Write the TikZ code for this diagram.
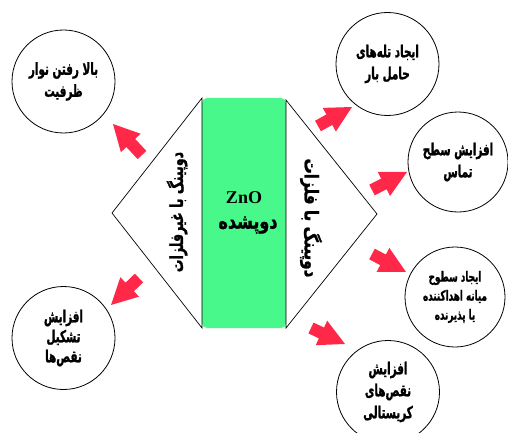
\documentclass[tikz,border=0pt]{standalone}
\usepackage{fontspec}
\setmainfont{Liberation Serif}
\newfontfamily\faA[Script=Arabic, FakeStretch=0.63, BoldFeatures={FakeBold=1.2}]{DejaVu Sans}
\newfontfamily\faB[Script=Arabic, FakeStretch=0.7, BoldFeatures={FakeBold=1.2}]{DejaVu Sans}
\newfontfamily\faC[Script=Arabic, FakeStretch=0.8, BoldFeatures={FakeBold=1.2}]{DejaVu Sans}
\newfontfamily\faD[Script=Arabic, FakeStretch=0.76, BoldFeatures={FakeBold=1.2}]{DejaVu Sans}
\TeXXeTstate=1
\usetikzlibrary{calc}
\definecolor{arrowred}{RGB}{255,40,72}
\definecolor{zgreen}{RGB}{72,248,138}
\newcommand\blockarrow[2]{%
  \coordinate (hb) at ($(#2)!26pt!(#1)$);
  \fill[arrowred] ($(#1)!6pt!90:(#2)$) -- ($(hb)!6pt!-90:(#1)$) -- ($(hb)!13.5pt!-90:(#1)$) -- (#2)
     -- ($(hb)!13.5pt!90:(#1)$) -- ($(hb)!6pt!90:(#1)$) -- ($(#1)!6pt!-90:(#2)$) -- cycle;}
\begin{document}
\begin{tikzpicture}[x=1pt,y=-1pt,
  circ/.style={draw, circle, minimum size=103pt, inner sep=0pt, line width=0.8pt},
  ctext/.style={font=\faA\bfseries\fontsize{16.5}{22}\selectfont, align=center},
  stext/.style={font=\faA\bfseries\fontsize{14}{19}\selectfont, align=center},
  tri/.style={draw, line width=0.7pt}]
\useasboundingbox (0,0) rectangle (508,433);
\clip (0,0) rectangle (508,433);
% core
\node[fill=zgreen, rounded corners=5pt, minimum width=84pt, minimum height=230pt, inner sep=0pt] (core) at (244,213) {};
\node[font=\bfseries\fontsize{18}{20}\selectfont] (zno) at (244,198) {ZnO};
\node[font=\faD\bfseries\fontsize{21}{22}\selectfont] (dop) at (248,225) {\beginR دوپشده\endR};
% triangles
\draw[tri] (202,98) -- (112,213) -- (202,328) -- cycle;
\draw[tri] (286,100) -- (377,214) -- (286,328) -- cycle;
\node[font=\faB\bfseries\fontsize{18}{18}\selectfont, rotate=90] (nonmetal) at (177,212) {\beginR دوپینگ با غیرفلزات\endR};
\node[font=\faC\bfseries\fontsize{19}{19}\selectfont, rotate=-90] (metal) at (311,218) {\beginR دوپینگ با فلزات\endR};
% circles
\node[circ] (c1) at (63.5,81.5) {};
\node[ctext] at (c1) {\beginR بالا رفتن نوار\endR\\\beginR ظرفیت\endR};
\node[circ] (c2) at (387.5,64) {};
\node[ctext] at (c2) {\beginR ایجاد تله‌های\endR\\\beginR حامل بار\endR};
\node[circ, minimum size=100pt] (c3) at (458,162) {};
\node[ctext] at (c3) {\beginR افزایش سطح\endR\\\beginR تماس\endR};
\node[circ, minimum size=100pt] (c4) at (455,297) {};
\node[stext] at (c4) {\beginR ایجاد سطوح\endR\\\beginR میانه اهداکننده\endR\\\beginR یا پذیرنده\endR};
\node[circ] (c5) at (388,392) {};
\node[ctext] at (c5) {\beginR افزایش\endR\\\beginR نقص‌های\endR\\\beginR کریستالی\endR};
\node[circ] (c6) at (63.5,338) {};
\node[ctext, font=\faA\bfseries\fontsize{16.5}{20}\selectfont] at (c6) {\beginR افزایش\endR\\\beginR تشکیل\endR\\\beginR نقص‌ها\endR};
% arrows
\coordinate (t1) at (142,155); \coordinate (p1) at (113,124);
\coordinate (t2) at (139,278); \coordinate (p2) at (111,305);
\coordinate (t3) at (318,126); \coordinate (p3) at (352,107);
\coordinate (t4) at (372,190); \coordinate (p4) at (407,172);
\coordinate (t5) at (372,254); \coordinate (p5) at (406,272);
\coordinate (t6) at (311,328); \coordinate (p6) at (345,344);
\blockarrow{t1}{p1}
\blockarrow{t2}{p2}
\blockarrow{t3}{p3}
\blockarrow{t4}{p4}
\blockarrow{t5}{p5}
\blockarrow{t6}{p6}
\end{tikzpicture}
\end{document}
